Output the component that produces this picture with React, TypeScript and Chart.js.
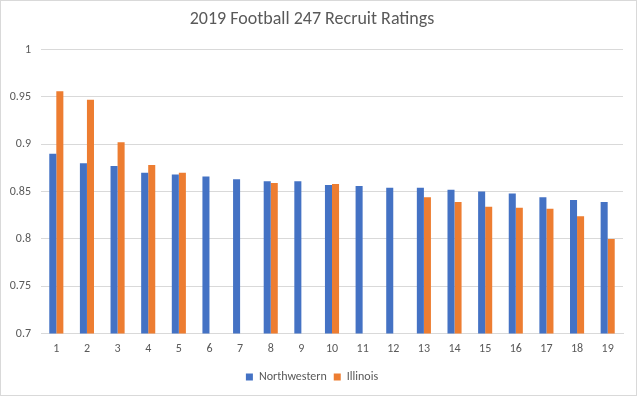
import React, { useEffect, useRef } from "react";
import { Chart, registerables } from "chart.js";

Chart.register(...registerables);

const categories = ["1","2","3","4","5","6","7","8","9","10","11","12","13","14","15","16","17","18","19"];
const northwestern = [0.89, 0.88, 0.877, 0.87, 0.868, 0.866, 0.863, 0.861, 0.861, 0.857, 0.856, 0.854, 0.854, 0.852, 0.85, 0.848, 0.844, 0.841, 0.839];
const illinois = [0.956, 0.947, 0.902, 0.878, 0.87, null, null, 0.859, null, 0.858, null, null, 0.844, 0.839, 0.834, 0.833, 0.832, 0.824, 0.8];
const title = "2019 Football 247 Recruit Ratings";
const seriesNames = ["Northwestern", "Illinois"];

export default function App() {
  const ref = useRef<HTMLCanvasElement>(null);
  useEffect(() => {
    if (!ref.current) return;
    const font = "Calibri, Carlito, 'Open Sans', 'Liberation Sans', sans-serif";
    const chart = new Chart(ref.current, {
      type: "bar",
      data: {
        labels: categories,
        datasets: [
          { label: seriesNames[0], data: northwestern, backgroundColor: "#4472C4", barPercentage: 1, categoryPercentage: 0.46 },
          { label: seriesNames[1], data: illinois as any, backgroundColor: "#ED7D31", barPercentage: 1, categoryPercentage: 0.46 },
        ],
      },
      options: {
        animation: false,
        responsive: false,
        maintainAspectRatio: false,
        layout: { padding: { left: 0, right: 13, top: 6, bottom: 2 } },
        plugins: {
          title: {
            display: true,
            text: title,
            color: "#595959",
            font: { family: font, size: 18, weight: "normal" },
            padding: { top: 2, bottom: 19 },
          },
          legend: {
            position: "bottom",
            labels: {
              color: "#595959",
              font: { family: font, size: 12 },
              boxWidth: 7,
              boxHeight: 7,
              padding: 7,
            },
          },
          tooltip: { enabled: false },
        },
        scales: {
          x: {
            grid: { display: false, drawTicks: false },
            border: { display: true, color: "#d9d9d9" },
            ticks: { color: "#595959", font: { family: font, size: 12 }, maxRotation: 0, padding: 8 },
          },
          y: {
            min: 0.7,
            max: 1,
            grid: { color: "#d9d9d9", drawTicks: false },
            border: { display: false },
            afterFit: (scale: any) => { scale.width = 40; },
            ticks: {
              stepSize: 0.05,
              color: "#595959",
              font: { family: font, size: 12 },
              padding: 10,
              callback: (v: any) => String(+Number(v).toFixed(2)),
            },
          },
        },
      },
    });
    return () => chart.destroy();
  }, []);
  return (
    <div style={{ position: "fixed", left: 0, top: 0, width: 637, height: 396, boxSizing: "border-box", border: "1px solid #d9d9d9", background: "#fff" }}>
      <canvas ref={ref} width={635} height={394} style={{ display: "block" }} />
    </div>
  );
}
